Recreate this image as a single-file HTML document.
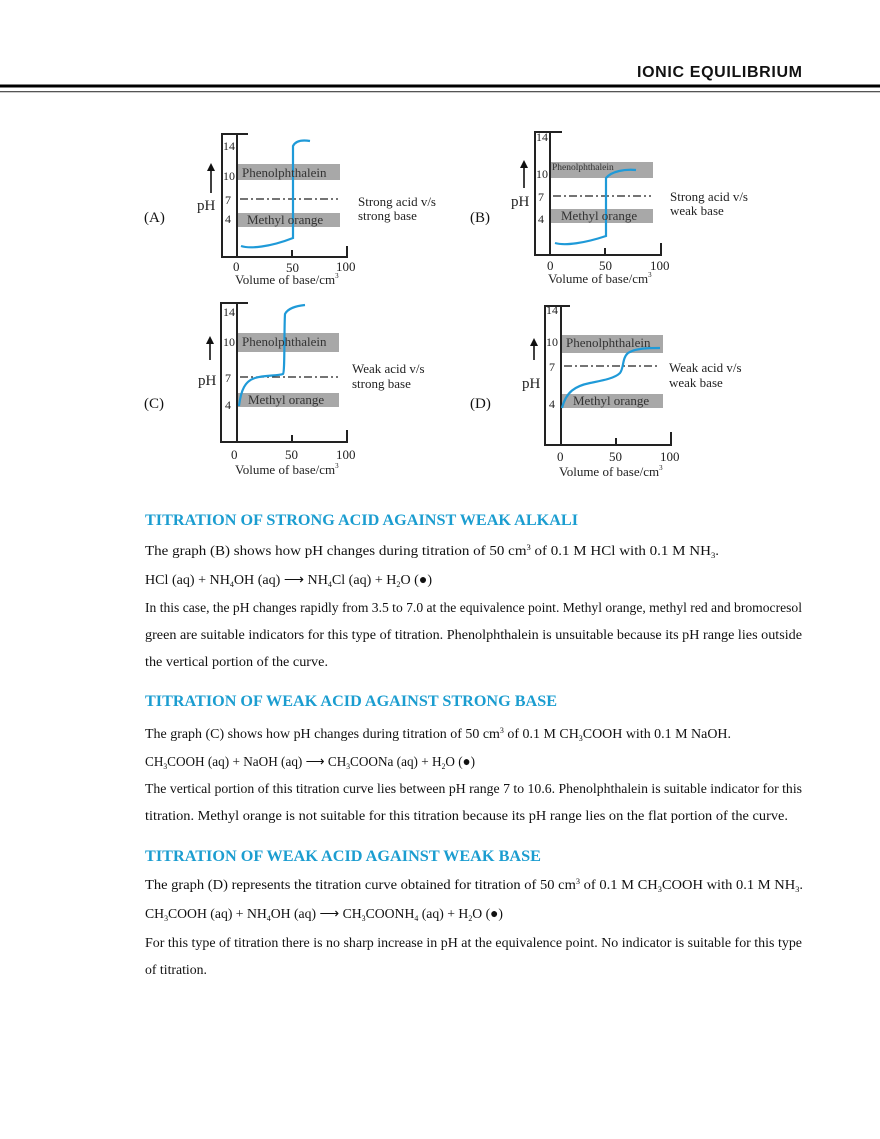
<!DOCTYPE html>
<html><head><meta charset="utf-8"><style>
html,body{margin:0;padding:0;background:#fff;}
svg{display:block;}
.t{font-family:"Liberation Serif",serif;font-size:14px;fill:#111;}
.h{font-family:"Liberation Serif",serif;font-size:16px;font-weight:bold;fill:#1b9dd0;}
.g{font-family:"Liberation Serif",serif;font-size:12px;fill:#222;}
.gb{font-family:"Liberation Serif",serif;font-size:13px;fill:#333;}
.ax{stroke:#222;stroke-width:2;fill:none;}
.box{fill:#a8a8a8;}
.cv{stroke:#1f9ad8;stroke-width:2.2;fill:none;}
.ds{stroke:#222;stroke-width:1.3;stroke-dasharray:8,3,2,3;}
</style></head><body>
<svg width="880" height="1139" viewBox="0 0 880 1139" xmlns="http://www.w3.org/2000/svg">
<!-- header -->
<text x="637" y="77" font-family="Liberation Sans,sans-serif" font-weight="bold" font-size="16" fill="#111" textLength="165">IONIC EQUILIBRIUM</text>
<rect x="0" y="84.5" width="880" height="3" fill="#000"/>
<rect x="0" y="91" width="880" height="1.3" fill="#555"/>

<!-- Graph A -->
<g>
<rect class="box" x="237" y="164" width="103" height="16"/>
<rect class="box" x="237" y="213" width="103" height="14"/>
<polyline class="ax" points="248,134 222,134 222,257 347,257 347,246"/>
<line class="ax" x1="237" y1="134" x2="237" y2="257"/>
<line class="ax" x1="292" y1="250" x2="292" y2="257"/>
<line class="ds" x1="240" y1="199" x2="338" y2="199"/>
<path class="cv" d="M241,246 C250,249 270,247 293,238 L293,146 C296,140 304,140 310,141"/>
<text class="g" x="223" y="150">14</text><text class="g" x="223" y="180">10</text>
<text class="g" x="225" y="204">7</text><text class="g" x="225" y="223">4</text>
<text class="gb" x="242" y="177">Phenolphthalein</text>
<text class="gb" x="247" y="224">Methyl orange</text>
<text class="g" x="197" y="210" style="font-size:15px">pH</text>
<line x1="211" y1="193" x2="211" y2="170" stroke="#111" stroke-width="1.6"/><polygon points="207,171 215,171 211,163" fill="#111"/>
<text class="t" x="144" y="222" style="font-size:15px">(A)</text>
<text class="g" x="358" y="206" style="font-size:13px">Strong acid v/s</text><text class="g" x="358" y="220" style="font-size:13px">strong base</text>
<text class="g" x="233" y="271" style="font-size:13px">0</text><text class="g" x="286" y="272" style="font-size:13px">50</text><text class="g" x="336" y="271" style="font-size:13px">100</text>
<text class="g" x="235" y="284" style="font-size:13px">Volume of base/cm<tspan font-size="7" dy="-6">3</tspan></text>
</g>

<!-- Graph B -->
<g>
<rect class="box" x="550" y="162" width="103" height="16"/>
<rect class="box" x="550" y="209" width="103" height="14"/>
<polyline class="ax" points="562,132 535,132 535,255 661,255 661,243"/>
<line class="ax" x1="550" y1="132" x2="550" y2="255"/>
<line class="ax" x1="605" y1="248" x2="605" y2="255"/>
<line class="ds" x1="553" y1="196" x2="651" y2="196"/>
<path class="cv" d="M555,243 C565,246 585,243 606,236 L606,178 C612,171 625,169 636,170"/>
<text class="g" x="536" y="141">14</text><text class="g" x="536" y="178">10</text>
<text class="g" x="538" y="201">7</text><text class="g" x="538" y="223">4</text>
<text class="gb" x="552" y="170" style="font-size:9.5px">Phenolphthalein</text>
<text class="gb" x="561" y="220">Methyl orange</text>
<text class="g" x="511" y="206" style="font-size:15px">pH</text>
<line x1="524" y1="188" x2="524" y2="167" stroke="#111" stroke-width="1.6"/><polygon points="520,168 528,168 524,160" fill="#111"/>
<text class="t" x="470" y="222" style="font-size:15px">(B)</text>
<text class="g" x="670" y="201" style="font-size:13px">Strong acid v/s</text><text class="g" x="670" y="215" style="font-size:13px">weak base</text>
<text class="g" x="547" y="270" style="font-size:13px">0</text><text class="g" x="599" y="270" style="font-size:13px">50</text><text class="g" x="650" y="270" style="font-size:13px">100</text>
<text class="g" x="548" y="283" style="font-size:13px">Volume of base/cm<tspan font-size="7" dy="-6">3</tspan></text>
</g>

<!-- Graph C -->
<g>
<rect class="box" x="237" y="333" width="102" height="19"/>
<rect class="box" x="237" y="393" width="102" height="14"/>
<polyline class="ax" points="248,303 221,303 221,442 347,442 347,430"/>
<line class="ax" x1="237" y1="303" x2="237" y2="442"/>
<line class="ax" x1="292" y1="435" x2="292" y2="442"/>
<line class="ds" x1="240" y1="377" x2="338" y2="377"/>
<path class="cv" d="M239,406 C241,390 245,381 255,378 C265,375 278,376 283,374 C285,372 284,330 285,314 C288,308 296,306 305,305"/>
<text class="g" x="223" y="316">14</text><text class="g" x="223" y="346">10</text>
<text class="g" x="225" y="382">7</text><text class="g" x="225" y="409">4</text>
<text class="gb" x="242" y="346">Phenolphthalein</text>
<text class="gb" x="248" y="404">Methyl orange</text>
<text class="g" x="198" y="385" style="font-size:15px">pH</text>
<line x1="210" y1="360" x2="210" y2="343" stroke="#111" stroke-width="1.6"/><polygon points="206,344 214,344 210,336" fill="#111"/>
<text class="t" x="144" y="408" style="font-size:15px">(C)</text>
<text class="g" x="352" y="373" style="font-size:13px">Weak acid v/s</text><text class="g" x="352" y="388" style="font-size:13px">strong base</text>
<text class="g" x="231" y="459" style="font-size:13px">0</text><text class="g" x="285" y="459" style="font-size:13px">50</text><text class="g" x="336" y="459" style="font-size:13px">100</text>
<text class="g" x="235" y="474" style="font-size:13px">Volume of base/cm<tspan font-size="7" dy="-6">3</tspan></text>
</g>

<!-- Graph D -->
<g>
<rect class="box" x="561" y="335" width="102" height="18"/>
<rect class="box" x="561" y="394" width="102" height="14"/>
<polyline class="ax" points="570,306 545,306 545,445 671,445 671,432"/>
<line class="ax" x1="561" y1="306" x2="561" y2="445"/>
<line class="ax" x1="616" y1="438" x2="616" y2="445"/>
<line class="ds" x1="564" y1="366" x2="660" y2="366"/>
<path class="cv" d="M562,408 C566,392 575,386 590,383 C605,380 615,378 620,373 C624,368 622,358 628,353 C636,348 648,348 660,348"/>
<text class="g" x="546" y="314">14</text><text class="g" x="546" y="346">10</text>
<text class="g" x="549" y="371">7</text><text class="g" x="549" y="408">4</text>
<text class="gb" x="566" y="347">Phenolphthalein</text>
<text class="gb" x="573" y="405">Methyl orange</text>
<text class="g" x="522" y="388" style="font-size:15px">pH</text>
<line x1="534" y1="360" x2="534" y2="345" stroke="#111" stroke-width="1.6"/><polygon points="530,346 538,346 534,338" fill="#111"/>
<text class="t" x="470" y="408" style="font-size:15px">(D)</text>
<text class="g" x="669" y="372" style="font-size:13px">Weak acid v/s</text><text class="g" x="669" y="387" style="font-size:13px">weak base</text>
<text class="g" x="557" y="461" style="font-size:13px">0</text><text class="g" x="609" y="461" style="font-size:13px">50</text><text class="g" x="660" y="461" style="font-size:13px">100</text>
<text class="g" x="559" y="476" style="font-size:13px">Volume of base/cm<tspan font-size="7" dy="-6">3</tspan></text>
</g>

<!-- Section 1 -->
<text class="h" x="145" y="525" textLength="433" lengthAdjust="spacingAndGlyphs">TITRATION OF STRONG ACID AGAINST WEAK ALKALI</text>
<text class="t" x="145" y="555" textLength="574" lengthAdjust="spacingAndGlyphs">The graph (B) shows how pH changes during titration of 50 cm<tspan font-size="8" dy="-5">3</tspan><tspan dy="5"> of 0.1 M HCl with 0.1 M NH</tspan><tspan font-size="8" dy="3">3</tspan><tspan dy="-3">.</tspan></text>
<text class="t" x="145" y="584" textLength="287" lengthAdjust="spacingAndGlyphs">HCl (aq) + NH<tspan font-size="8" dy="3">4</tspan><tspan dy="-3">OH (aq) ⟶ NH</tspan><tspan font-size="8" dy="3">4</tspan><tspan dy="-3">Cl (aq) + H</tspan><tspan font-size="8" dy="3">2</tspan><tspan dy="-3">O (●)</tspan></text>
<text class="t" x="145" y="612" textLength="657" lengthAdjust="spacingAndGlyphs">In this case, the pH changes rapidly from 3.5 to 7.0 at the equivalence point. Methyl orange, methyl red and bromocresol</text>
<text class="t" x="145" y="639" textLength="657" lengthAdjust="spacingAndGlyphs">green are suitable indicators for this type of titration. Phenolphthalein is unsuitable because its pH range lies outside</text>
<text class="t" x="145" y="666" textLength="183" lengthAdjust="spacingAndGlyphs">the vertical portion of the curve.</text>

<!-- Section 2 -->
<text class="h" x="145" y="706" textLength="412" lengthAdjust="spacingAndGlyphs">TITRATION OF WEAK ACID AGAINST STRONG BASE</text>
<text class="t" x="145" y="738" textLength="586" lengthAdjust="spacingAndGlyphs">The graph (C) shows how pH changes during titration of 50 cm<tspan font-size="8" dy="-5">3</tspan><tspan dy="5"> of 0.1 M CH</tspan><tspan font-size="8" dy="3">3</tspan><tspan dy="-3">COOH with 0.1 M NaOH.</tspan></text>
<text class="t" x="145" y="766" textLength="330" lengthAdjust="spacingAndGlyphs">CH<tspan font-size="8" dy="3">3</tspan><tspan dy="-3">COOH (aq) + NaOH (aq) ⟶ CH</tspan><tspan font-size="8" dy="3">3</tspan><tspan dy="-3">COONa (aq) + H</tspan><tspan font-size="8" dy="3">2</tspan><tspan dy="-3">O (●)</tspan></text>
<text class="t" x="145" y="793" textLength="657" lengthAdjust="spacingAndGlyphs">The vertical portion of this titration curve lies between pH range 7 to 10.6. Phenolphthalein is suitable indicator for this</text>
<text class="t" x="145" y="820" textLength="643" lengthAdjust="spacingAndGlyphs">titration. Methyl orange is not suitable for this titration because its pH range lies on the flat portion of the curve.</text>

<!-- Section 3 -->
<text class="h" x="145" y="861" textLength="396" lengthAdjust="spacingAndGlyphs">TITRATION OF WEAK ACID AGAINST WEAK BASE</text>
<text class="t" x="145" y="889" textLength="658" lengthAdjust="spacingAndGlyphs">The graph (D) represents the titration curve obtained for titration of 50 cm<tspan font-size="8" dy="-5">3</tspan><tspan dy="5"> of 0.1 M CH</tspan><tspan font-size="8" dy="3">3</tspan><tspan dy="-3">COOH with 0.1 M NH</tspan><tspan font-size="8" dy="3">3</tspan><tspan dy="-3">.</tspan></text>
<text class="t" x="145" y="918" textLength="358" lengthAdjust="spacingAndGlyphs">CH<tspan font-size="8" dy="3">3</tspan><tspan dy="-3">COOH (aq) + NH</tspan><tspan font-size="8" dy="3">4</tspan><tspan dy="-3">OH (aq) ⟶ CH</tspan><tspan font-size="8" dy="3">3</tspan><tspan dy="-3">COONH</tspan><tspan font-size="8" dy="3">4</tspan><tspan dy="-3"> (aq) + H</tspan><tspan font-size="8" dy="3">2</tspan><tspan dy="-3">O (●)</tspan></text>
<text class="t" x="145" y="947" textLength="657" lengthAdjust="spacingAndGlyphs">For this type of titration there is no sharp increase in pH at the equivalence point. No indicator is suitable for this type</text>
<text class="t" x="145" y="974" textLength="62" lengthAdjust="spacingAndGlyphs">of titration.</text>
</svg>
</body></html>
